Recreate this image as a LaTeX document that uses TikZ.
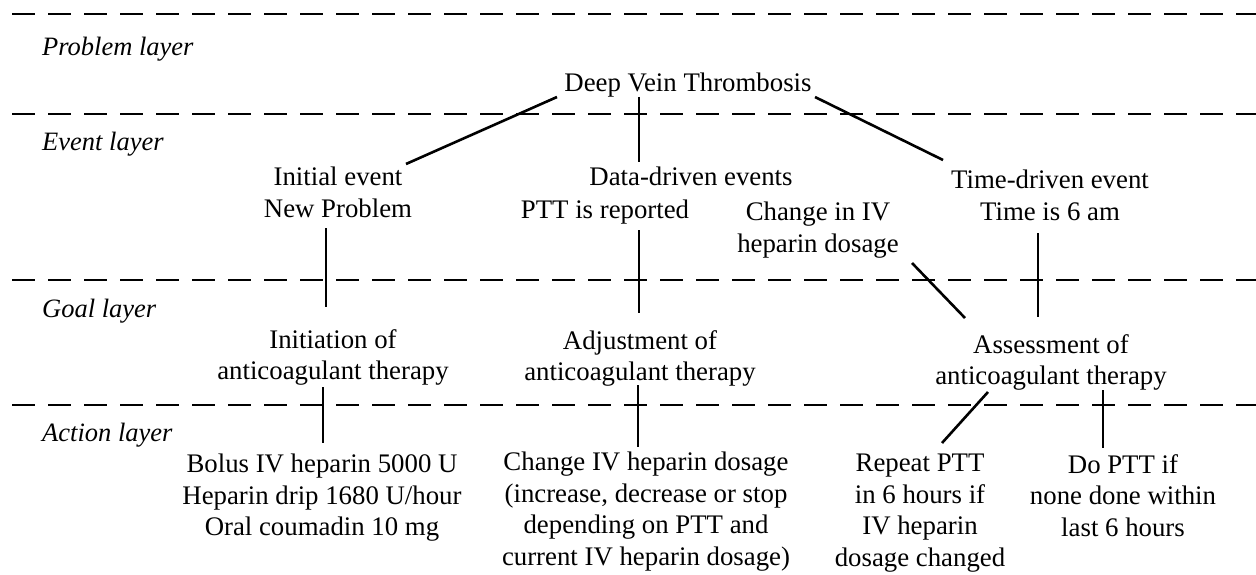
\documentclass[tikz,border=0pt]{standalone}
\usepackage{fontspec}
\setmainfont{Liberation Serif}
\begin{document}
\begin{tikzpicture}[x=1pt,y=-1pt,
  txt/.style={inner sep=0pt, anchor=north, align=center, font=\fontsize{26.8}{31.5}\selectfont},
  lay/.style={inner sep=0pt, anchor=base west, font=\fontsize{26.5}{31.5}\selectfont\itshape},
  layerline/.style={line width=2pt, dash pattern=on 23pt off 13pt},
  conn/.style={line width=2.6pt}]
\useasboundingbox (0,0) rectangle (1256,575);
% layer separators
\draw[layerline] (12,14) -- (1256,14);
\draw[layerline] (12,114) -- (1256,114);
\draw[layerline] (12,280) -- (1256,280);
\draw[layerline] (12,405) -- (1256,405);
% layer labels
\node[lay] (lp) at (42,56) {Problem layer};
\node[lay] (le) at (42,150) {Event layer};
\node[lay] (lg) at (42,317) {Goal layer};
\node[lay] (la) at (42,441) {Action layer};
% nodes
\node[txt] (dvt) at (688,73) {Deep Vein Thrombosis};
\node[txt] (ie) at (338,167) {Initial event\\New Problem};
\node[txt] (dd) at (691,167) {Data-driven events};
\node[txt] (ptt) at (605,200) {PTT is reported};
\node[txt] (civ) at (818,202) {Change in IV\\heparin dosage};
\node[txt] (td) at (1050,170) {Time-driven event\\Time is 6 am};
\node[txt] (ini) at (333,329) {Initiation of\\anticoagulant therapy};
\node[txt] (adj) at (640,330) {Adjustment of\\anticoagulant therapy};
\node[txt] (ass) at (1051,334) {Assessment of\\anticoagulant therapy};
\node[txt] (bol) at (322,454) {Bolus IV heparin 5000 U\\Heparin drip 1680 U/hour\\Oral coumadin 10 mg};
\node[txt] (chg) at (646,452) {Change IV heparin dosage\\(increase, decrease or stop\\depending on PTT and\\current IV heparin dosage)};
\node[txt] (rep) at (920,454) {Repeat PTT\\in 6 hours if\\IV heparin\\dosage changed};
\node[txt] (dop) at (1123,454) {Do PTT if\\none done within\\last 6 hours};
% connectors
\draw[conn] ([shift={(-131,24)}]dvt.north) -- ([shift={(68,-3)}]ie.north);
\draw[conn] ([shift={(-49,24)}]dvt.north) -- ([shift={(-52,-5)}]dd.north);
\draw[conn] ([shift={(127,24)}]dvt.north) -- ([shift={(-107,-10)}]td.north);
\draw[conn] ([shift={(-12,61)}]ie.north) -- ([shift={(-7,-22)}]ini.north);
\draw[conn] ([shift={(34,30)}]ptt.north) -- ([shift={(-1,-17)}]adj.north);
\draw[conn] ([shift={(94,61)}]civ.north) -- ([shift={(-86,-16)}]ass.north);
\draw[conn] ([shift={(-12,63)}]td.north) -- ([shift={(-13,-17)}]ass.north);
\draw[conn] ([shift={(-10,58)}]ini.north) -- ([shift={(1,-11)}]bol.north);
\draw[conn] ([shift={(-2,55)}]adj.north) -- ([shift={(-8,-5)}]chg.north);
\draw[conn] ([shift={(-63,58)}]ass.north) -- ([shift={(22,-11)}]rep.north);
\draw[conn] ([shift={(52,56)}]ass.north) -- ([shift={(-20,-6)}]dop.north);
\end{tikzpicture}
\end{document}
